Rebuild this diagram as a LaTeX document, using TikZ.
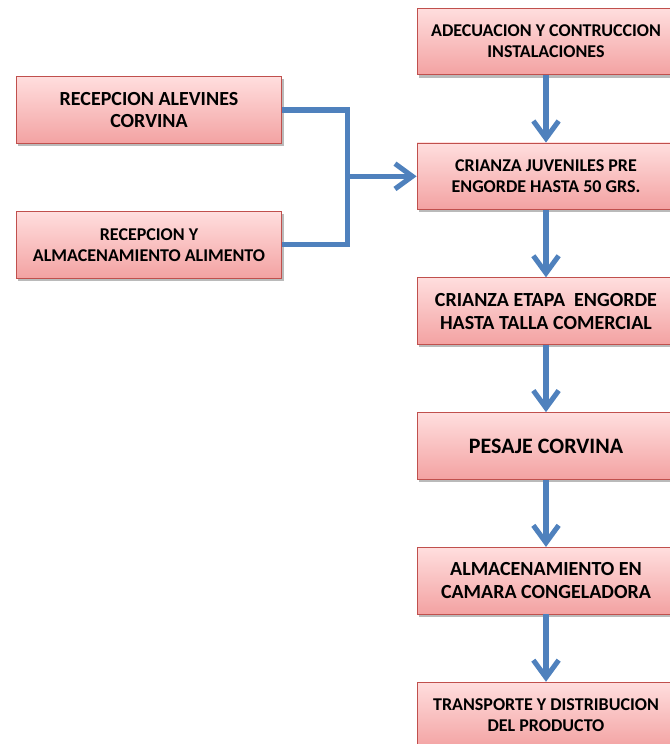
\documentclass[tikz,border=0pt]{standalone}
\usepackage{fontspec}
\setmainfont{Carlito}
\usepackage{tikz}
\usetikzlibrary{arrows.meta, positioning, shadows}
\definecolor{boxtop}{HTML}{FFDEDE}
\definecolor{boxbottom}{HTML}{F3A2A2}
\definecolor{boxline}{HTML}{C0504D}
\definecolor{flowblue}{HTML}{4F81BD}

\begin{document}
\begin{tikzpicture}[
    x=0.75pt, y=-0.75pt,
    node distance=50.5pt,
    every node/.style={font=\bfseries},
    flowbox/.style={
        rectangle,
        draw=boxline,
        line width=0.6pt,
        top color=boxtop,
        bottom color=boxbottom,
        minimum width=193.5pt,
        minimum height=50pt,
        align=center,
        inner sep=2pt,
        drop shadow={shadow xshift=1.5pt, shadow yshift=-2pt, opacity=0.45, fill=black!60}
    },
    sidebox/.style={flowbox, minimum width=199pt},
    hugetxt/.style={font=\bfseries\fontsize{16.5}{18}\selectfont},
    bigtxt/.style={font=\bfseries\fontsize{15}{17.2}\selectfont},
    smalltxt/.style={font=\bfseries\fontsize{13.5}{15.8}\selectfont},
    arrow/.style={line width=3.8pt, color=flowblue, -{Straight Barb[length=13pt, width=19pt]}},
    link/.style={line width=3.8pt, color=flowblue}
]
\useasboundingbox (0,0) rectangle (669,744);

% main chain
\node[flowbox, smalltxt] (adecuacion) at (546,41.5) {ADECUACION Y CONTRUCCION\\INSTALACIONES};
\node[flowbox, smalltxt, below=of adecuacion] (juveniles) {CRIANZA JUVENILES PRE\\ENGORDE HASTA 50 GRS.};
\node[flowbox, bigtxt, below=of juveniles] (engorde) {CRIANZA ETAPA\ \ ENGORDE\\HASTA TALLA COMERCIAL};
\node[flowbox, hugetxt, below=of engorde] (pesaje) {PESAJE CORVINA};
\node[flowbox, bigtxt, below=of pesaje] (camara) {ALMACENAMIENTO EN\\CAMARA CONGELADORA};
\node[flowbox, smalltxt, below=of camara] (transporte) {TRANSPORTE Y DISTRIBUCION\\DEL PRODUCTO};

% inputs
\node[sidebox, bigtxt] (alevines) at (149,110) {RECEPCION ALEVINES\\CORVINA};
\node[sidebox, smalltxt, below=of alevines] (alimento) {RECEPCION Y\\ALMACENAMIENTO ALIMENTO};

\coordinate[left=51.75pt of juveniles.west] (junction);

\draw[arrow] (adecuacion) -- (juveniles);
\draw[arrow] (juveniles) -- (engorde);
\draw[arrow] (engorde) -- (pesaje);
\draw[arrow] (pesaje) -- (camara);
\draw[arrow] (camara) -- (transporte);

\draw[link] (alevines.east) -| (junction);
\draw[link] (alimento.east) -| (junction);
\draw[arrow] (junction) -- (juveniles.west);

\end{tikzpicture}
\end{document}
